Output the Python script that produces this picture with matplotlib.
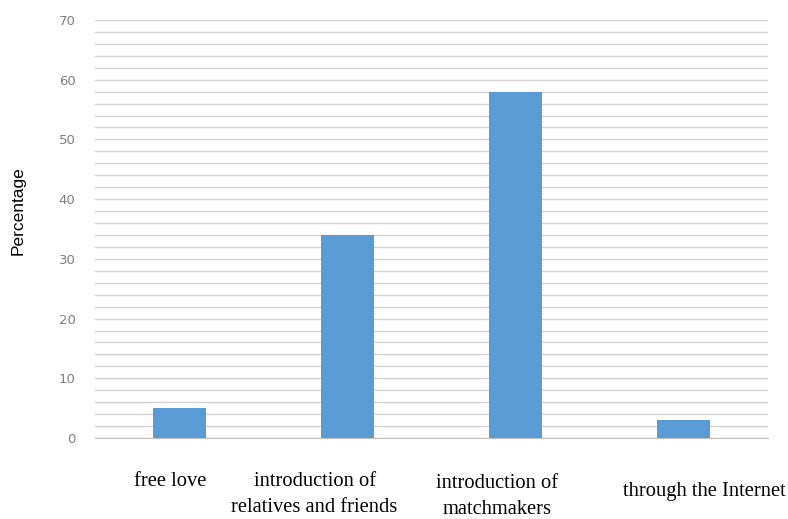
import matplotlib.pyplot as plt
from matplotlib.transforms import blended_transform_factory

# 数据
categories = ["free love", "introduction of\nrelatives and friends",
              "introduction of\nmatchmakers", "through the Internet"]
values = [5, 34, 58, 3]

# 标签位置（相对于柱子的偏移，轴坐标的 y）
label_dx = [-0.054, -0.195, -0.111, 0.12]
label_y = [-0.103, -0.135, -0.139, -0.129]

fig = plt.figure(figsize=(7.88, 5.19), dpi=100)
ax = fig.add_axes([0.1206, 0.156, 0.854, 0.8055])

x = list(range(len(categories)))
ax.bar(x, values, width=0.315, color="#5B9BD5", zorder=3)

ax.set_xlim(-0.5, 3.5)
ax.set_ylim(0, 70)
ax.set_yticks(range(0, 71, 10))
ax.set_yticks(range(0, 71, 2), minor=True)
ax.grid(axis="y", which="both", color="#d4d4d4", linewidth=1.0, zorder=0)
ax.tick_params(axis="y", which="both", length=0, labelsize=9.5, labelcolor="#7f7f7f", pad=14)
ax.set_xticks([])
for s in ["top", "right", "left"]:
    ax.spines[s].set_visible(False)
ax.spines["bottom"].set_color("#bfbfbf")

tr = blended_transform_factory(ax.transData, ax.transAxes)
for xi, lab, dx, ly in zip(x, categories, label_dx, label_y):
    ax.text(xi + dx, ly, lab, transform=tr, ha="center", va="center",
            family="Liberation Serif", fontsize=14.8, linespacing=1.5)

fig.text(0.023, 0.595, "Percentage", rotation=90, ha="center", va="center",
         family="Liberation Sans", fontsize=12.5)

fig.savefig("out.png", dpi=100)
